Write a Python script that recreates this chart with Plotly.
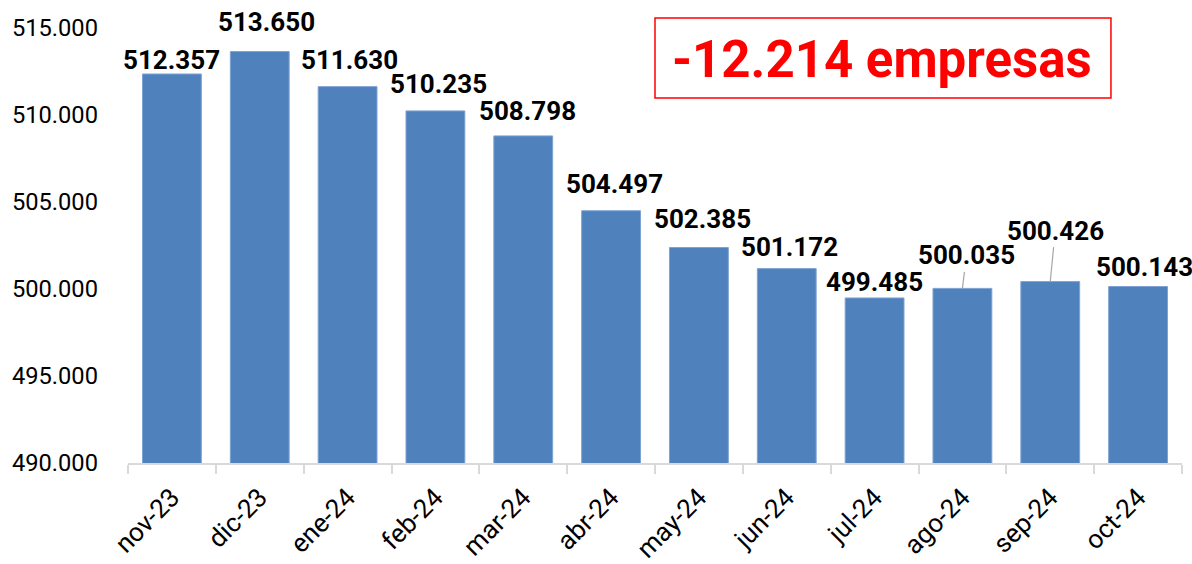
import plotly.graph_objects as go

categories = ["nov-23", "dic-23", "ene-24", "feb-24", "mar-24", "abr-24",
              "may-24", "jun-24", "jul-24", "ago-24", "sep-24", "oct-24"]
values = [512357, 513650, 511630, 510235, 508798, 504497,
          502385, 501172, 499485, 500035, 500426, 500143]
labels = ["512.357", "513.650", "511.630", "510.235", "508.798", "504.497",
          "502.385", "501.172", "499.485", "500.035", "500.426", "500.143"]
y_ticks = [490000, 495000, 500000, 505000, 510000, 515000]
y_tick_text = ["490.000", "495.000", "500.000", "505.000", "510.000", "515.000"]
headline = "-12.214 empresas"

# label offsets (pixels) from bar top; leader line shown for some
label_dx = [0, 7, 2, 3, 4, 3, 4, 3, 0, 4, 5, 6]
label_dy = [-14, -29, -27, -27, -25, -27, -29, -22, -16, -33, -51, -20]
leader = [False] * 9 + [True, True, False]

fig = go.Figure()
fig.add_trace(go.Bar(
    x=categories, y=values,
    marker=dict(color="#4F81BD", line=dict(color="#7EA3D3", width=1)),
    width=0.67,
))

for c, v, t, dx, dy, ld in zip(categories, values, labels, label_dx, label_dy, leader):
    fig.add_annotation(
        x=c, y=v, text=f"<b>{t}</b>", showarrow=True,
        ax=dx, ay=dy, arrowhead=0, arrowwidth=1.2,
        arrowcolor="#A6A6A6" if ld else "rgba(0,0,0,0)",
        standoff=0, startstandoff=0,
        font=dict(family="Roboto", size=26, color="#000000"),
    )

fig.add_shape(type="rect", xref="paper", yref="paper",
              x0=0.5, x1=0.9326, y0=0.839, y1=1.023,
              line=dict(color="#FF0000", width=1.5), fillcolor="white", layer="above")
fig.add_annotation(xref="paper", yref="paper", x=0.7154, y=0.928,
                   text=f"<b>{headline}</b>", showarrow=False,
                   xanchor="center", yanchor="middle",
                   font=dict(family="Roboto", size=51, color="#FF0000"))

fig.update_layout(
    width=1192, height=564,
    margin=dict(l=128, r=10, t=28, b=101, autoexpand=False),
    paper_bgcolor="white", plot_bgcolor="white",
    showlegend=False, bargap=0.33,
    font=dict(family="Roboto", color="#000000"),
)
fig.update_yaxes(range=[490000, 515000], tickvals=y_ticks, ticktext=y_tick_text,
                 showgrid=False, zeroline=False, showline=False, ticks="",
                 ticklabelstandoff=29, automargin=False,
                 tickfont=dict(family="Roboto", size=23.7, color="#000000"))
fig.update_xaxes(range=[-0.5, 11.5], showline=True, linecolor="#D9D9D9", linewidth=1.5,
                 ticks="outside", tickson="boundaries", ticklen=9, tickcolor="#D9D9D9",
                 tickwidth=1.5, tickangle=-45, showgrid=False, automargin=False,
                 ticklabelstandoff=7,
                 tickfont=dict(family="Roboto", size=26, color="#000000"))

fig.write_html("out.html", config={"displayModeBar": False})
with open("out.html", encoding="utf-8") as f:
    html = f.read()
html = html.replace("<body>", '<body style="margin:0;overflow:hidden">', 1)
with open("out.html", "w", encoding="utf-8") as f:
    f.write(html)
